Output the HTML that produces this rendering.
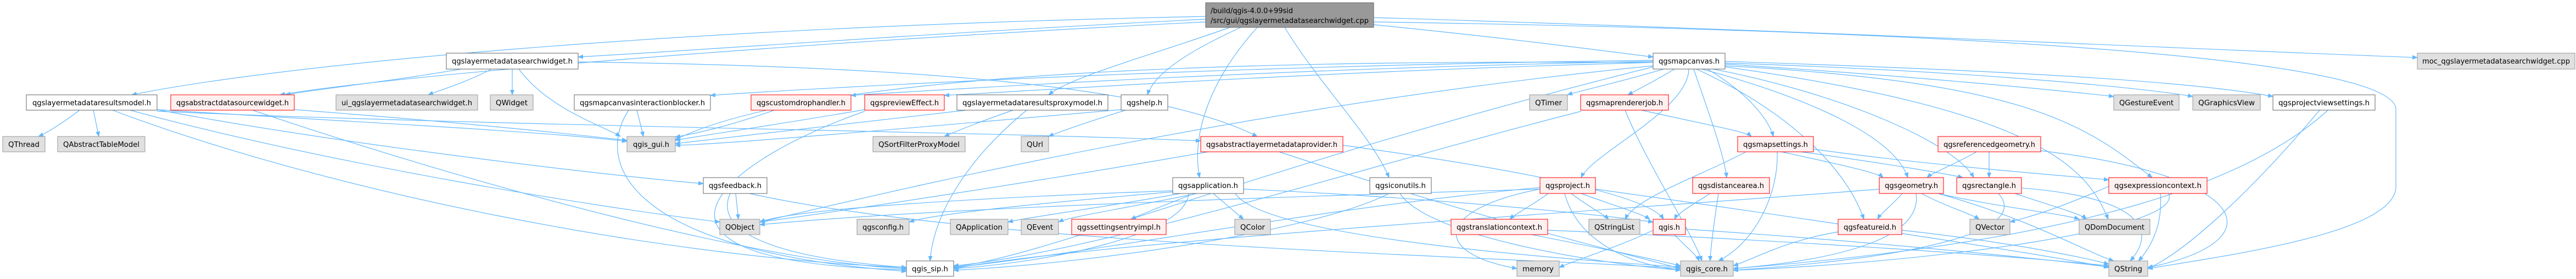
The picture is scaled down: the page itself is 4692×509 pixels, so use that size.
<!DOCTYPE html>
<html><head><meta charset="utf-8"><style>
html,body{margin:0;padding:0;background:#fff;}
svg{display:block;}
text{font-family:"DejaVu Sans Condensed","Liberation Sans",sans-serif;font-size:13px;fill:#000;}
.e{fill:none;stroke:#63b8ff;stroke-width:1.2;marker-end:url(#a);}
.w{fill:#fff;stroke:#666;stroke-width:1;}
.g{fill:#e0e0e0;stroke:#999;stroke-width:1;}
.r{fill:#fff0f0;stroke:#f00;stroke-width:1;}
.k{fill:#999;stroke:#666;stroke-width:1;}
</style></head><body>
<svg width="4692" height="509" viewBox="0 0 4692 509" xmlns="http://www.w3.org/2000/svg">
<defs><marker id="a" markerWidth="10" markerHeight="8" refX="9" refY="4" orient="auto" markerUnits="userSpaceOnUse"><path d="M0,0 L10,4 L0,8 z" fill="#63b8ff"/></marker></defs>
<g>
<path class="e" d="M2502 32 C3400 60 4000 90 4403 105"/>
<path class="e" d="M2196 35 C1700 60 1300 90 1053 104"/>
<path class="e" d="M2502 45 C2750 70 2900 90 3011 104"/>
<path class="e" d="M2196 30 C1200 50 500 120 240 173"/>
<path class="e" d="M2196 40 C1400 80 700 140 510 173"/>
<path class="e" d="M2240 50 C2100 100 1950 140 1910 173"/>
<path class="e" d="M2260 50 C2150 100 2100 140 2090 173"/>
<path class="e" d="M2290 50 C2200 150 2170 250 2185 324"/>
<path class="e" d="M2340 50 C2400 150 2500 250 2530 324"/>
<path class="e" d="M1053 113 C1600 120 2100 150 2290 249"/>
<path class="e" d="M2502 40 C3800 60 4364 120 4364 200 L4364 340 C4364 420 4100 460 3912 490"/>
<path class="e" d="M3030 126 C2950 150 2880 165 2855 173"/>
<path class="e" d="M3050 126 C3010 150 2980 165 2965 173"/>
<path class="e" d="M3110 126 C3200 180 3225 230 3230 249"/>
<path class="e" d="M3076 126 C3076 200 2900 280 2880 324"/>
<path class="e" d="M3085 126 C3110 200 3140 280 3145 324"/>
<path class="e" d="M3100 126 C3300 180 3450 250 3475 324"/>
<path class="e" d="M3120 126 C3350 170 3560 260 3595 324"/>
<path class="e" d="M3142 120 C3700 150 3800 230 3920 324"/>
<path class="e" d="M3090 126 C3250 200 3360 300 3395 400"/>
<path class="e" d="M3142 117 C3500 140 3750 165 3850 176"/>
<path class="e" d="M3142 115 C3600 130 3900 160 3994 176"/>
<path class="e" d="M3142 112 C3700 130 4000 150 4140 176"/>
<path class="e" d="M3142 122 C3700 200 3800 300 3840 400"/>
<path class="e" d="M3011 114 C2400 110 1500 120 1230 255"/>
<path class="e" d="M3011 110 C2200 120 1500 160 1294 174"/>
<path class="e" d="M3011 112 C2300 125 1700 165 1550 174"/>
<path class="e" d="M3011 114 C2400 130 1900 165 1720 174"/>
<path class="e" d="M3011 120 C2200 200 1500 380 1384 405"/>
<path class="e" d="M3011 122 C2300 300 1900 470 1737 487"/>
<path class="e" d="M895 126 C850 150 800 165 780 173"/>
<path class="e" d="M933 126 L933 173"/>
<path class="e" d="M945 126 C1000 200 1100 230 1130 249"/>
<path class="e" d="M840 126 C700 150 560 165 520 173"/>
<path class="e" d="M286 200 C600 260 1100 320 1281 335"/>
<path class="e" d="M145 201 C120 220 90 240 70 249"/>
<path class="e" d="M170 201 L180 249"/>
<path class="e" d="M286 200 C600 220 1000 240 1142 258"/>
<path class="e" d="M237 201 C600 300 1100 380 1311 405"/>
<path class="e" d="M205 201 C600 350 1200 470 1651 488"/>
<path class="e" d="M286 203 C900 230 1800 240 2187 257"/>
<path class="e" d="M536 200 C800 220 1000 240 1142 256"/>
<path class="e" d="M460 201 C900 350 1400 480 1651 490"/>
<path class="e" d="M1160 201 L1172 249"/>
<path class="e" d="M1145 201 C1080 300 1150 460 1651 495"/>
<path class="e" d="M1410 201 C1330 230 1260 245 1230 250"/>
<path class="e" d="M1575 200 C1400 230 1260 250 1230 256"/>
<path class="e" d="M1575 203 C1300 300 1100 480 1651 492"/>
<path class="e" d="M1845 201 C1790 220 1740 240 1720 249"/>
<path class="e" d="M1760 201 C1500 230 1280 255 1230 262"/>
<path class="e" d="M1870 201 C1750 300 1700 400 1694 476"/>
<path class="e" d="M2050 201 C1990 220 1930 240 1910 249"/>
<path class="e" d="M2042 200 C1700 230 1300 265 1230 265"/>
<path class="e" d="M2330 277 C2700 400 2950 460 3061 490"/>
<path class="e" d="M2200 277 C1900 330 1500 390 1384 405"/>
<path class="e" d="M2446 265 C2700 300 3000 350 3030 400"/>
<path class="e" d="M2150 353 C2000 380 1880 395 1836 405"/>
<path class="e" d="M2180 353 C2050 380 1950 395 1928 405"/>
<path class="e" d="M2175 353 C2120 375 2080 390 2060 400"/>
<path class="e" d="M2210 353 L2265 400"/>
<path class="e" d="M2136 350 C1900 370 1700 390 1656 405"/>
<path class="e" d="M2136 348 C1800 360 1450 380 1384 405"/>
<path class="e" d="M2250 353 C2300 430 2800 470 3061 487"/>
<path class="e" d="M2165 353 C2160 430 1900 480 1737 490"/>
<path class="e" d="M2265 345 C2600 360 2900 390 3011 405"/>
<path class="e" d="M2530 353 C2400 420 2000 480 1737 493"/>
<path class="e" d="M2550 353 C2600 430 2900 480 3061 493"/>
<path class="e" d="M2820 353 C2790 375 2760 390 2750 400"/>
<path class="e" d="M2862 353 C2890 375 2920 390 2930 400"/>
<path class="e" d="M2880 353 C2940 375 2990 390 3005 400"/>
<path class="e" d="M2805 345 C2620 380 2600 460 2763 490"/>
<path class="e" d="M2850 353 C2870 430 2950 480 3061 493"/>
<path class="e" d="M2805 342 C2400 380 2000 460 1737 488"/>
<path class="e" d="M2805 345 C2300 360 1700 380 1384 410"/>
<path class="e" d="M2906 345 C3300 400 3700 460 3841 488"/>
<path class="e" d="M3115 353 C3080 375 3055 390 3050 400"/>
<path class="e" d="M3130 353 C3120 420 3115 460 3115 476"/>
<path class="e" d="M3245 277 C3350 300 3420 315 3430 324"/>
<path class="e" d="M3280 277 C3450 300 3560 320 3575 324"/>
<path class="e" d="M3180 277 C3100 320 2980 360 2960 400"/>
<path class="e" d="M3237 277 C3240 350 3200 440 3130 476"/>
<path class="e" d="M3303 272 C3500 300 3750 320 3841 328"/>
<path class="e" d="M2990 201 C3120 230 3180 240 3190 249"/>
<path class="e" d="M2960 201 C3000 300 3080 420 3100 476"/>
<path class="e" d="M2880 203 C2500 300 2000 460 1737 485"/>
<path class="e" d="M3600 277 C3560 300 3520 315 3510 324"/>
<path class="e" d="M3623 277 L3623 324"/>
<path class="e" d="M3717 275 C4100 320 4150 440 3912 488"/>
<path class="e" d="M3465 353 C3445 375 3425 390 3420 400"/>
<path class="e" d="M3500 353 C3540 375 3590 390 3605 400"/>
<path class="e" d="M3530 353 C3650 380 3760 390 3787 400"/>
<path class="e" d="M3530 353 C3700 400 3800 460 3850 476"/>
<path class="e" d="M3490 353 C3500 420 3400 470 3157 490"/>
<path class="e" d="M3423 345 C3000 380 2000 440 1737 490"/>
<path class="e" d="M3670 353 C3750 380 3790 390 3800 400"/>
<path class="e" d="M3640 353 C3700 420 3500 470 3157 493"/>
<path class="e" d="M3682 343 C3900 360 3930 420 3880 476"/>
<path class="e" d="M3935 353 C3940 420 3910 460 3895 476"/>
<path class="e" d="M3841 340 C3750 380 3700 395 3661 405"/>
<path class="e" d="M3950 353 C3980 420 3500 480 3157 493"/>
<path class="e" d="M4225 201 C4100 350 3980 460 3912 490"/>
<path class="e" d="M4240 201 C4100 330 3800 440 3157 490"/>
<path class="e" d="M3464 420 C3650 440 3800 470 3841 482"/>
<path class="e" d="M3348 423 C3250 440 3200 470 3157 485"/>
<path class="e" d="M2790 428 C2900 450 3000 470 3061 485"/>
<path class="e" d="M2819 420 C3300 440 3700 470 3841 485"/>
<path class="e" d="M3050 428 C3070 450 3090 465 3095 476"/>
<path class="e" d="M3011 420 C2950 450 2880 470 2840 488"/>
<path class="e" d="M3070 418 C3400 440 3700 470 3841 487"/>
<path class="e" d="M1340 353 L1345 400"/>
<path class="e" d="M1365 353 C1800 450 2800 470 3061 490"/>
<path class="e" d="M1330 353 C1300 420 1400 470 1651 488"/>
</g>
<g>
<rect class="k" x="2196" y="5" width="306" height="45"/>
<text x="2205" y="24" textLength="150" lengthAdjust="spacingAndGlyphs">/build/qgis-4.0.0+99sid</text>
<text x="2205" y="42" textLength="288" lengthAdjust="spacingAndGlyphs">/src/gui/qgslayermetadatasearchwidget.cpp</text>

<rect class="g" x="4403" y="97" width="287" height="29"/><text x="4412" y="116" textLength="269" lengthAdjust="spacingAndGlyphs">moc_qgslayermetadatasearchwidget.cpp</text>
<rect class="w" x="813" y="97" width="240" height="29"/><text x="823" y="116" textLength="220" lengthAdjust="spacingAndGlyphs">qgslayermetadatasearchwidget.h</text>
<rect class="w" x="3011" y="97" width="131" height="29"/><text x="3021" y="116" textLength="111" lengthAdjust="spacingAndGlyphs">qgsmapcanvas.h</text>

<rect class="w" x="48" y="173" width="238" height="28"/><text x="59" y="192" textLength="216" lengthAdjust="spacingAndGlyphs">qgslayermetadataresultsmodel.h</text>
<rect class="r" x="311" y="173" width="225" height="28"/><text x="321" y="192" textLength="205" lengthAdjust="spacingAndGlyphs">qgsabstractdatasourcewidget.h</text>
<rect class="g" x="612" y="173" width="258" height="28"/><text x="622" y="192" textLength="238" lengthAdjust="spacingAndGlyphs">ui_qgslayermetadatasearchwidget.h</text>
<rect class="g" x="893" y="173" width="78" height="28"/><text x="903" y="192" textLength="58" lengthAdjust="spacingAndGlyphs">QWidget</text>
<rect class="w" x="1046" y="173" width="248" height="28"/><text x="1056" y="192" textLength="228" lengthAdjust="spacingAndGlyphs">qgsmapcanvasinteractionblocker.h</text>
<rect class="r" x="1368" y="173" width="182" height="28"/><text x="1378" y="192" textLength="162" lengthAdjust="spacingAndGlyphs">qgscustomdrophandler.h</text>
<rect class="r" x="1575" y="173" width="145" height="28"/><text x="1585" y="192" textLength="125" lengthAdjust="spacingAndGlyphs">qgspreviewEffect.h</text>
<rect class="w" x="1743" y="173" width="275" height="28"/><text x="1753" y="192" textLength="255" lengthAdjust="spacingAndGlyphs">qgslayermetadataresultsproxymodel.h</text>
<rect class="w" x="2042" y="173" width="85" height="28"/><text x="2052" y="192" textLength="65" lengthAdjust="spacingAndGlyphs">qgshelp.h</text>
<rect class="g" x="2786" y="173" width="69" height="28"/><text x="2796" y="192" textLength="49" lengthAdjust="spacingAndGlyphs">QTimer</text>
<rect class="r" x="2879" y="173" width="160" height="28"/><text x="2889" y="192" textLength="140" lengthAdjust="spacingAndGlyphs">qgsmaprendererjob.h</text>
<rect class="g" x="3850" y="173" width="119" height="28"/><text x="3860" y="192" textLength="99" lengthAdjust="spacingAndGlyphs">QGestureEvent</text>
<rect class="g" x="3994" y="173" width="123" height="28"/><text x="4004" y="192" textLength="103" lengthAdjust="spacingAndGlyphs">QGraphicsView</text>
<rect class="w" x="4140" y="173" width="186" height="28"/><text x="4150" y="192" textLength="166" lengthAdjust="spacingAndGlyphs">qgsprojectviewsettings.h</text>

<rect class="g" x="5" y="249" width="77" height="28"/><text x="15" y="268" textLength="57" lengthAdjust="spacingAndGlyphs">QThread</text>
<rect class="g" x="105" y="249" width="159" height="28"/><text x="115" y="268" textLength="139" lengthAdjust="spacingAndGlyphs">QAbstractTableModel</text>
<rect class="g" x="1142" y="249" width="88" height="28"/><text x="1153" y="268" textLength="66" lengthAdjust="spacingAndGlyphs">qgis_gui.h</text>
<rect class="g" x="1590" y="249" width="168" height="28"/><text x="1600" y="268" textLength="148" lengthAdjust="spacingAndGlyphs">QSortFilterProxyModel</text>
<rect class="g" x="1860" y="249" width="50" height="28"/><text x="1870" y="268" textLength="30" lengthAdjust="spacingAndGlyphs">QUrl</text>
<rect class="r" x="2187" y="249" width="259" height="28"/><text x="2197" y="268" textLength="239" lengthAdjust="spacingAndGlyphs">qgsabstractlayermetadataprovider.h</text>
<rect class="r" x="3165" y="249" width="138" height="28"/><text x="3175" y="268" textLength="118" lengthAdjust="spacingAndGlyphs">qgsmapsettings.h</text>
<rect class="r" x="3530" y="249" width="187" height="28"/><text x="3540" y="268" textLength="167" lengthAdjust="spacingAndGlyphs">qgsreferencedgeometry.h</text>

<rect class="w" x="1281" y="324" width="116" height="29"/><text x="1291" y="343" textLength="96" lengthAdjust="spacingAndGlyphs">qgsfeedback.h</text>
<rect class="w" x="2136" y="324" width="129" height="29"/><text x="2146" y="343" textLength="109" lengthAdjust="spacingAndGlyphs">qgsapplication.h</text>
<rect class="w" x="2495" y="324" width="112" height="29"/><text x="2505" y="343" textLength="92" lengthAdjust="spacingAndGlyphs">qgsiconutils.h</text>
<rect class="r" x="2805" y="324" width="101" height="29"/><text x="2815" y="343" textLength="81" lengthAdjust="spacingAndGlyphs">qgsproject.h</text>
<rect class="r" x="3083" y="324" width="140" height="29"/><text x="3093" y="343" textLength="120" lengthAdjust="spacingAndGlyphs">qgsdistancearea.h</text>
<rect class="r" x="3423" y="324" width="117" height="29"/><text x="3433" y="343" textLength="97" lengthAdjust="spacingAndGlyphs">qgsgeometry.h</text>
<rect class="r" x="3564" y="324" width="118" height="29"/><text x="3574" y="343" textLength="98" lengthAdjust="spacingAndGlyphs">qgsrectangle.h</text>
<rect class="r" x="3841" y="324" width="179" height="29"/><text x="3851" y="343" textLength="159" lengthAdjust="spacingAndGlyphs">qgsexpressioncontext.h</text>

<rect class="g" x="1311" y="400" width="73" height="28"/><text x="1321" y="419" textLength="53" lengthAdjust="spacingAndGlyphs">QObject</text>
<rect class="g" x="1561" y="400" width="95" height="28"/><text x="1571" y="419" textLength="75" lengthAdjust="spacingAndGlyphs">qgsconfig.h</text>
<rect class="g" x="1731" y="400" width="105" height="28"/><text x="1741" y="419" textLength="85" lengthAdjust="spacingAndGlyphs">QApplication</text>
<rect class="g" x="1860" y="400" width="68" height="28"/><text x="1870" y="419" textLength="48" lengthAdjust="spacingAndGlyphs">QEvent</text>
<rect class="r" x="1952" y="400" width="172" height="28"/><text x="1962" y="419" textLength="152" lengthAdjust="spacingAndGlyphs">qgssettingsentryimpl.h</text>
<rect class="g" x="2249" y="400" width="65" height="28"/><text x="2259" y="419" textLength="45" lengthAdjust="spacingAndGlyphs">QColor</text>
<rect class="r" x="2643" y="400" width="176" height="28"/><text x="2653" y="419" textLength="156" lengthAdjust="spacingAndGlyphs">qgstranslationcontext.h</text>
<rect class="g" x="2894" y="400" width="93" height="28"/><text x="2904" y="419" textLength="73" lengthAdjust="spacingAndGlyphs">QStringList</text>
<rect class="r" x="3011" y="400" width="59" height="28"/><text x="3021" y="419" textLength="39" lengthAdjust="spacingAndGlyphs">qgis.h</text>
<rect class="r" x="3348" y="400" width="116" height="28"/><text x="3358" y="419" textLength="96" lengthAdjust="spacingAndGlyphs">qgsfeatureid.h</text>
<rect class="g" x="3588" y="400" width="73" height="28"/><text x="3598" y="419" textLength="53" lengthAdjust="spacingAndGlyphs">QVector</text>
<rect class="g" x="3787" y="400" width="129" height="28"/><text x="3797" y="419" textLength="109" lengthAdjust="spacingAndGlyphs">QDomDocument</text>

<rect class="w" x="1651" y="476" width="86" height="28"/><text x="1661" y="495" textLength="66" lengthAdjust="spacingAndGlyphs">qgis_sip.h</text>
<rect class="g" x="2763" y="476" width="77" height="28"/><text x="2773" y="495" textLength="57" lengthAdjust="spacingAndGlyphs">memory</text>
<rect class="g" x="3061" y="476" width="96" height="28"/><text x="3071" y="495" textLength="76" lengthAdjust="spacingAndGlyphs">qgis_core.h</text>
<rect class="g" x="3841" y="476" width="71" height="28"/><text x="3851" y="495" textLength="51" lengthAdjust="spacingAndGlyphs">QString</text>
</g>
</svg>
</body></html>
